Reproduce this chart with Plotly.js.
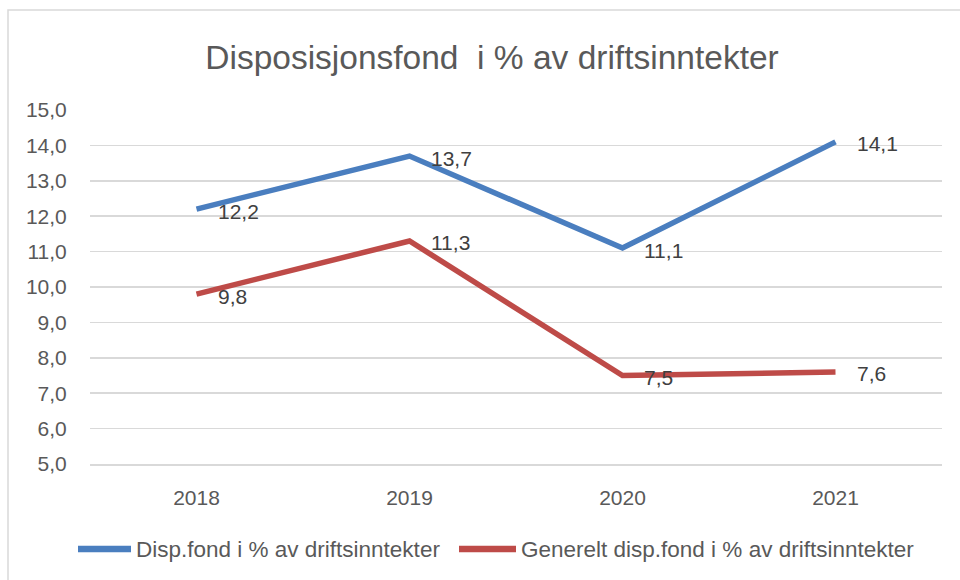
<!DOCTYPE html>
<html>
<head>
<meta charset="utf-8">
<script src="https://cdn.plot.ly/plotly-3.0.1.min.js"></script>
<style>html,body{margin:0;padding:0;background:#fff}#chart{width:960px;height:580px}</style>
</head>
<body>
<div id="chart"></div>
<script>
var years = ["2018", "2019", "2020", "2021"];
var dispFond = [12.2, 13.7, 11.1, 14.1];
var generelt = [9.8, 11.3, 7.5, 7.6];
var seriesNames = ["Disp.fond i % av driftsinntekter", "Generelt disp.fond i % av driftsinntekter"];
var seriesColors = ["#4a7ebf", "#be4b48"];
var titleText = "Disposisjonsfond  i % av driftsinntekter";

var FONT = "Liberation Sans, Arial, sans-serif";
var L = 90, R = 942, T = 110, B = 464, W = 960, H = 580;
function px(x){ return (x - L) / (R - L); }
function py(y){ return (B - y) / (B - T); }

var allSeries = [dispFond, generelt];
var traces = allSeries.map(function(vals, i){
  return {
    x: years, y: vals, type: "scatter", mode: "lines",
    name: seriesNames[i],
    line: {color: seriesColors[i], width: 5.5},
    hoverinfo: "skip"
  };
});

var annotations = [];
allSeries.forEach(function(vals){
  vals.forEach(function(v, j){
    annotations.push({
      x: j, y: v, xref: "x", yref: "y",
      text: v.toFixed(1).replace(".", ","),
      showarrow: false, xanchor: "left", yanchor: "middle",
      xshift: 19, yshift: -2,
      font: {family: FONT, size: 21, color: "#404040"}
    });
  });
});

// custom legend
var legendItems = [
  {x0: 78, x1: 131, tx: 134},
  {x0: 459, x1: 516, tx: 519}
];
var shapes = [{
  type: "rect", xref: "paper", yref: "paper",
  x0: px(8), x1: px(975), y0: py(10), y1: py(600),
  line: {color: "#d9d9d9", width: 1.5}, fillcolor: "rgba(0,0,0,0)", layer: "below"
}];
legendItems.forEach(function(it, i){
  shapes.push({
    type: "line", xref: "paper", yref: "paper",
    x0: px(it.x0), x1: px(it.x1), y0: py(549), y1: py(549),
    line: {color: seriesColors[i], width: 6.5}
  });
  annotations.push({
    xref: "paper", yref: "paper", x: px(it.tx), y: py(549),
    text: seriesNames[i], showarrow: false, xanchor: "left", yanchor: "middle",
    font: {family: FONT, size: 22.5, color: "#595959"}
  });
});

var layout = {
  width: W, height: H,
  margin: {l: L, r: W - R, t: T, b: H - B, pad: 0},
  paper_bgcolor: "#fff", plot_bgcolor: "#fff",
  separators: ", ",
  showlegend: false,
  title: {
    text: titleText, xref: "container", x: 492 / W, xanchor: "center",
    yref: "container", y: 1 - 57 / H, yanchor: "middle",
    font: {family: FONT, size: 33.5, color: "#595959"}
  },
  xaxis: {
    type: "category", range: [-0.5, 3.5],
    showgrid: false, zeroline: false,
    showline: true, linecolor: "#d9d9d9", linewidth: 1.5,
    ticks: "outside", ticklen: 14, tickcolor: "rgba(0,0,0,0)",
    tickfont: {family: FONT, size: 21, color: "#595959"}
  },
  yaxis: {
    range: [5, 15], dtick: 1, tick0: 5, tickformat: ".1f",
    showgrid: true, gridcolor: "#d9d9d9", gridwidth: 1.5,
    zeroline: false, showline: false,
    ticks: "outside", ticklen: 18, tickcolor: "rgba(0,0,0,0)",
    tickfont: {family: FONT, size: 21, color: "#595959"}
  },
  shapes: shapes,
  annotations: annotations
};

Plotly.newPlot("chart", traces, layout, {displayModeBar: false, staticPlot: true});
</script>
</body>
</html>
